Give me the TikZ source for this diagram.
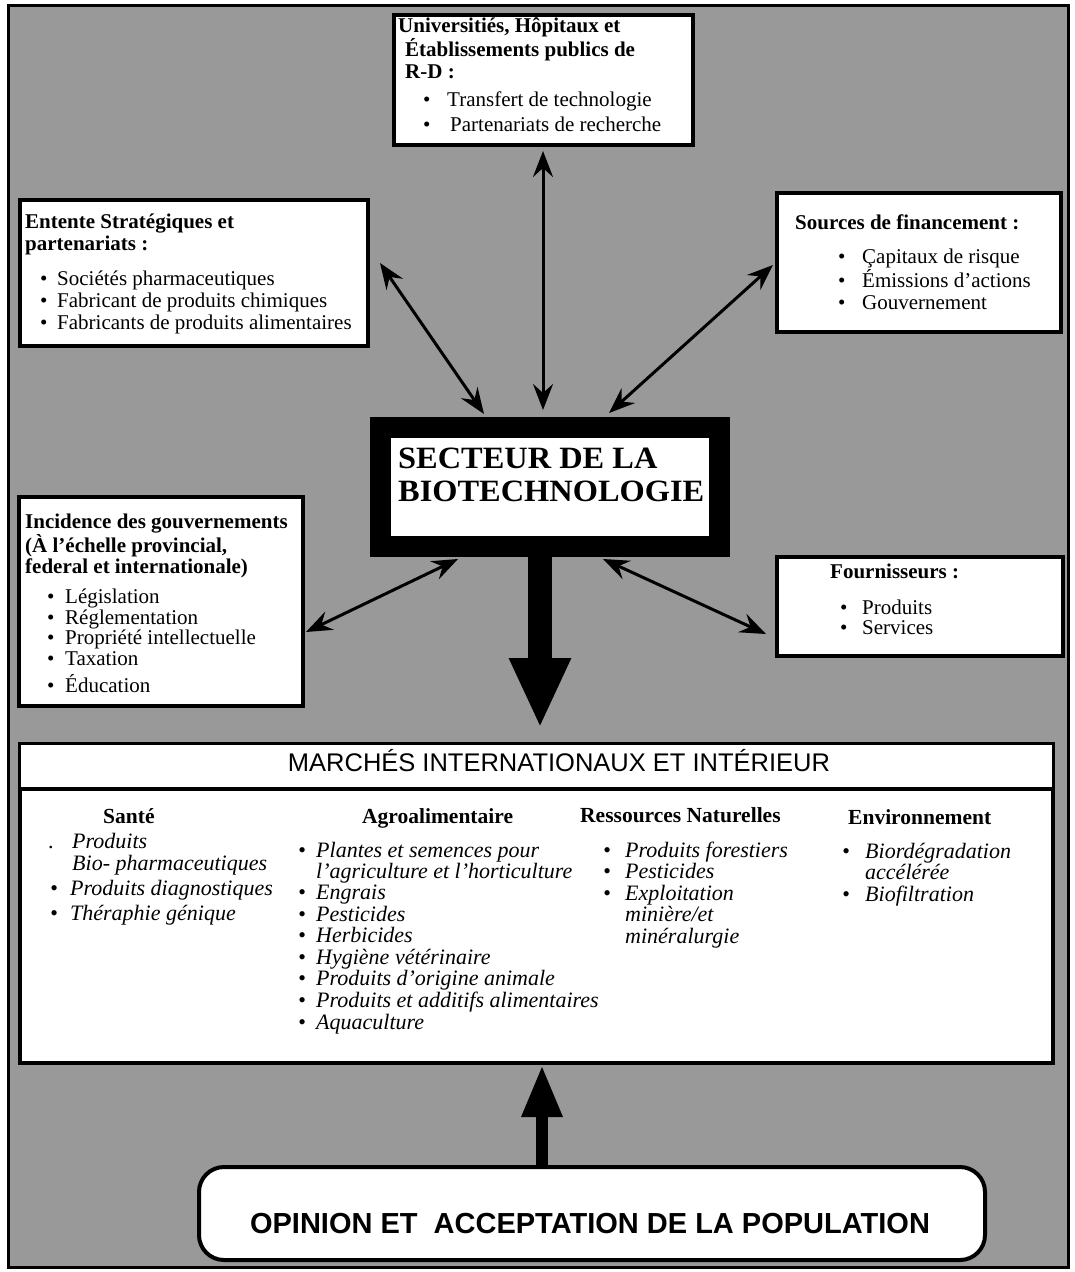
\documentclass[tikz,border=0pt]{standalone}
\usepackage{fontspec}
\setmainfont{Liberation Serif}
\setsansfont{Liberation Sans}
\usetikzlibrary{arrows.meta}
\newcommand\bl[3]{\hspace*{#1}\makebox[#2][l]{\textbullet}#3}
\newcommand\lns[1]{\begin{tabular}[t]{@{}l@{}}#1\end{tabular}}
\definecolor{halftone}{gray}{0.6}
\begin{document}
\begin{tikzpicture}[x=1pt,y=-1pt,
  box/.style={draw=black,line width=4pt,fill=white,inner sep=0pt,anchor=north west},
  body/.style={inner sep=0pt,anchor=base west,font=\fontsize{21}{22}\selectfont},
  head/.style={inner sep=0pt,anchor=base west,font=\bfseries\fontsize{21.5}{22}\selectfont},
  ital/.style={inner sep=0pt,anchor=base west,font=\itshape\fontsize{22}{21}\selectfont},
  dbl/.style={line width=3pt,{Stealth[length=26pt,width=20pt,inset=9pt]}-{Stealth[length=26pt,width=20pt,inset=9pt]}},
]
\useasboundingbox (0,0) rectangle (1075,1272);
\node[draw=black,line width=2.5pt,fill=halftone,anchor=north west,minimum width=1060pt,minimum height=1262pt,inner sep=0pt] (bg) at (7,4) {};

% boxes (anchor = outer corner)
\node[box,minimum width=299pt,minimum height=130pt] (top) at (392,13) {};
\node[box,minimum width=348pt,minimum height=146pt] (ent) at (18,198) {};
\node[box,minimum width=284pt,minimum height=139pt] (src) at (775,191) {};
\node[box,line width=21pt,minimum width=339pt,minimum height=119pt] (sec) at (370,417) {};
\node[box,minimum width=284pt,minimum height=209pt] (inc) at (17,495) {};
\node[box,minimum width=286pt,minimum height=99pt] (fou) at (775,555) {};
\node[box,line width=2.5pt,minimum width=1034pt,minimum height=46pt] (mkh) at (18,742) {};
\node[box,minimum width=1033pt,minimum height=274pt] (mkt) at (18,787) {};
\node[box,rounded corners=25pt,minimum width=786pt,minimum height=93pt] (opi) at (197,1165) {};

% connector ends
\coordinate (vA) at (543,151); \coordinate (vB) at (543,410);
\coordinate (eA) at (380,263); \coordinate (eB) at (484,414);
\coordinate (sA) at (773,265); \coordinate (sB) at (609,413);
\coordinate (iA) at (306,632); \coordinate (iB) at (458,559);
\coordinate (fA) at (766,634); \coordinate (fB) at (603,559);

\draw[dbl] (vA) -- (vB);
\draw[dbl] (eA) -- (eB);
\draw[dbl] (sA) -- (sB);
\draw[dbl] (iA) -- (iB);
\draw[dbl] (fA) -- (fB);

\draw[line width=24pt,-{Triangle[length=70pt,width=57pt]},shorten >=14pt]
  ([xshift=-10pt,yshift=10pt]sec.south) -- ([xshift=-10pt]sec.south |- mkh.north);
\draw[line width=12pt,-{Triangle[length=52pt,width=38pt]}]
  ([xshift=-50pt]opi.north) -- ([xshift=-50pt]opi.north |- mkt.south);

% texts
\node[body] (topT) at (405,32) {\lns{\hspace*{-7pt}\textbf{Universitiés, Hôpitaux et}\\
  \textbf{Établissements publics de}\\ \textbf{R-D :}\\[6pt]
  \bl{18pt}{24pt}{Transfert de technologie}\\[3pt]
  \bl{18pt}{27pt}{Partenariats de recherche}}};

\node[body] (entT) at (25,228) {\lns{\textbf{Entente Stratégiques et}\\
  \textbf{partenariats :}\\[13pt]
  \bl{15pt}{17pt}{Sociétés pharmaceutiques}\\
  \bl{15pt}{17pt}{Fabricant de produits chimiques}\\
  \bl{15pt}{17pt}{Fabricants de produits alimentaires}}};

\node[body] (srcT) at (795,229) {\lns{\textbf{Sources de financement :}\\[12pt]
  \bl{43pt}{24pt}{Çapitaux de risque}\\
  \bl{43pt}{24pt}{Émissions d’actions}\\
  \bl{43pt}{24pt}{Gouvernement}}};

\node[body,font=\fontsize{21}{20.5}\selectfont] (incT) at (25,528) {\lns{\textbf{Incidence des gouvernements}\\
  \textbf{(À l’échelle provincial,}\\
  \textbf{federal et internationale)}\\[9.5pt]
  \bl{22pt}{18pt}{Législation}\\
  \bl{22pt}{18pt}{Réglementation}\\
  \bl{22pt}{18pt}{Propriété intellectuelle}\\
  \bl{22pt}{18pt}{Taxation}\\[2.5pt]
  \bl{22pt}{18pt}{Éducation}}};

\node[body,font=\fontsize{21}{20.5}\selectfont] (fouT) at (830,578) {\lns{\textbf{Fournisseurs :}\\[15.5pt]
  \bl{10pt}{22pt}{Produits}\\
  \bl{10pt}{22pt}{Services}}};

\node[inner sep=0pt,anchor=base west,font=\bfseries\fontsize{31}{33}\selectfont] (secT) at (398,468)
  {\lns{\scalebox{1.045}[1]{SECTEUR DE LA}\\\scalebox{1.045}[1]{BIOTECHNOLOGIE}}};

\node[inner sep=0pt,anchor=base,font=\sffamily\fontsize{25.5}{26}\selectfont] (mkhT) at (559,771)
  {MARCHÉS INTERNATIONAUX ET INTÉRIEUR};

% market columns
\node[head] (h1) at (103,823) {Santé};
\node[head] (h2) at (362,823) {Agroalimentaire};
\node[head] (h3) at (580,822) {Ressources Naturelles};
\node[head] (h4) at (848,824) {Environnement};

\node[ital,font=\itshape\fontsize{22}{22}\selectfont] (c1) at (48,848) {\lns{\makebox[24pt][l]{\upshape .}Produits\\
  \hspace*{24pt}Bio- pharmaceutiques\\[3pt]
  \bl{2pt}{20pt}{Produits diagnostiques}\\[3pt]
  \bl{2pt}{20pt}{Théraphie génique}}};

\node[ital] (c2) at (298,857) {\lns{\bl{0pt}{18pt}{Plantes et semences pour}\\
  \hspace*{18pt}l’agriculture et l’horticulture\\
  \bl{0pt}{18pt}{Engrais}\\
  \bl{0pt}{18pt}{Pesticides}\\
  \bl{0pt}{18pt}{Herbicides}\\
  \bl{0pt}{18pt}{Hygiène vétérinaire}\\
  \bl{0pt}{18pt}{Produits d’origine animale}\\
  \bl{0pt}{18pt}{Produits et additifs alimentaires}\\
  \bl{0pt}{18pt}{Aquaculture}}};

\node[ital] (c3) at (603,857) {\lns{\bl{0pt}{22pt}{Produits forestiers}\\
  \bl{0pt}{22pt}{Pesticides}\\
  \bl{0pt}{22pt}{Exploitation}\\
  \hspace*{22pt}minière/et\\
  \hspace*{22pt}minéralurgie}};

\node[ital] (c4) at (842,858) {\lns{\bl{0pt}{23pt}{Biordégradation}\\
  \hspace*{23pt}accélérée\\
  \bl{0pt}{23pt}{Biofiltration}}};

\node[inner sep=0pt,anchor=base,font=\sffamily\bfseries\fontsize{29}{30}\selectfont] (opiT) at (590,1233)
  {OPINION ET\ \ ACCEPTATION DE LA POPULATION};
\end{tikzpicture}
\end{document}
